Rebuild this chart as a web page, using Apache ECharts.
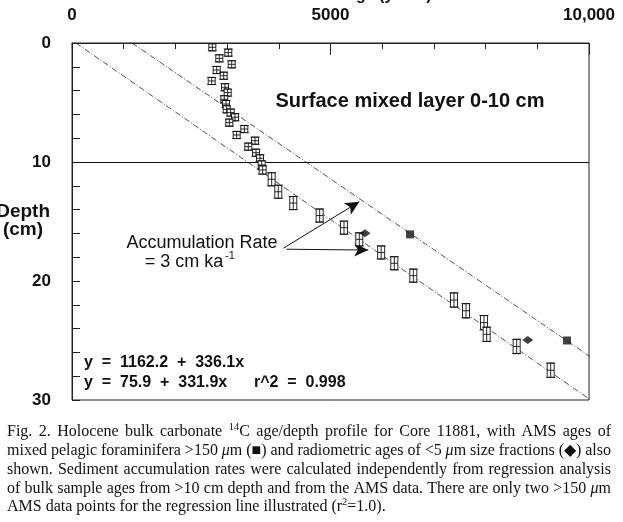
<!DOCTYPE html>
<html><head><meta charset="utf-8">
<script src="https://cdn.jsdelivr.net/npm/echarts@6/dist/echarts.min.js"></script>
<style>html,body{margin:0;padding:0;background:#fff}#c{width:623px;height:522px}</style>
</head><body><div id="c"></div>
<script>
// ---- data (age in years, depth in cm) ----
const bulkAge   = [2714,3023,2849,3089,2799,2934,2702,2959,3011,2946,2979,2992,3069,3153,3043,3333,3185,3540,3410,3559,3636,
                   3669,3688,3862,3990,4280,4790,5261,5557,5980,6234,6602,7389,7621,7969,8021,8601,9259];
const bulkDepth = [0.36,0.81,1.29,1.79,2.27,2.75,3.19,3.72,4.17,4.73,5.13,5.57,5.85,6.24,6.69,7.23,7.73,8.21,8.71,9.22,9.69,
                   10.25,10.67,11.45,12.5,13.45,14.5,15.52,16.5,17.6,18.51,19.55,21.6,22.5,23.5,24.48,25.5,27.5];
const bulkErr   = [0.3,0.3,0.3,0.3,0.3,0.3,0.3,0.3,0.3,0.3,0.3,0.3,0.3,0.3,0.3,0.3,0.3,0.3,0.3,0.3,0.3,
                   0.35,0.35,0.55,0.55,0.55,0.55,0.55,0.55,0.55,0.55,0.55,0.6,0.6,0.6,0.6,0.6,0.6];
const amsAge = [6538, 9574];
const amsDepth = [16.08, 25.0];
const fineAge = [5667, 8815];
const fineDepth = [15.99, 24.96];
// regression: age = a + b * depth
const regAms  = {a: 1162.2, b: 336.1};
const regBulk = {a: 75.9,  b: 331.9};
const regDepthRange = [0, 30];
const xTickLabels = {0: '0', 5000: '5000', 10000: '10,000'};
const yTickLabels = [0, 10, 20, 30];
const surfaceLimit = 10;
// arrows: [start age, start depth, end age, end depth]
const arrows = [[4087, 17.25, 5557, 13.34], [4150, 17.33, 5731, 17.4]];

const eqLine1 = 'y  =  1162.2  +  336.1x';
const eqLine2 = 'y  =  75.9  +  331.9x      r^2  =  0.998';

const captionLines = [
  'Fig. 2. Holocene bulk carbonate {s:14}C age/depth profile for Core 11881, with AMS ages of',
  'mixed pelagic foraminifera >150 {i:μ}m (■) and radiometric ages of <5 {i:μ}m size fractions (◆) also',
  'shown. Sediment accumulation rates were calculated independently from regression analysis',
  'of bulk sample ages from >10 cm depth and from the AMS data. There are only two >150 {i:μ}m',
  'AMS data points for the regression line illustrated (r{s:2}=1.0).'
];

// ---- chart ----
const chart = echarts.init(document.getElementById('c'), null, {renderer: 'canvas'});
const SANS = '"Liberation Sans", Arial, Helvetica, sans-serif';
const SERIF = '"Liberation Serif", "Times New Roman", serif';

function regLine(r){ return regDepthRange.map(d => [r.a + r.b * d, d]); }
const bulkData = bulkAge.map((a, i) => [a, bulkDepth[i], bulkErr[i]]);

function renderBulk(params, api){
  const x = api.value(0), d = api.value(1), e = api.value(2);
  const c = api.coord([x, d]);
  const top = api.coord([x, d - e])[1];
  const bot = api.coord([x, d + e])[1];
  const hw = 3.5, cw = 4.5;
  const st = {stroke: '#111', lineWidth: 0.9, fill: null};
  return {type: 'group', children: [
    {type: 'rect', shape: {x: c[0] - hw, y: top, width: 2 * hw, height: bot - top}, style: {fill: '#fff', stroke: '#111', lineWidth: 0.9}},
    {type: 'line', shape: {x1: c[0], y1: top, x2: c[0], y2: bot}, style: st},
    {type: 'line', shape: {x1: c[0] - hw, y1: c[1], x2: c[0] + hw, y2: c[1]}, style: st},
    {type: 'line', shape: {x1: c[0] - cw, y1: top, x2: c[0] + cw, y2: top}, style: st},
    {type: 'line', shape: {x1: c[0] - cw, y1: bot, x2: c[0] + cw, y2: bot}, style: st}
  ]};
}

// caption layout (justified)
const mctx = document.createElement('canvas').getContext('2d');
const CAP_SIZE = 16, SUP_SIZE = 10.5;
function segs(word){
  const out = []; const re = /\{(s|i):([^}]*)\}/g; let last = 0, m;
  while ((m = re.exec(word))){
    if (m.index > last) out.push({t: word.slice(last, m.index), k: 'n'});
    out.push({t: m[2], k: m[1]}); last = re.lastIndex;
  }
  if (last < word.length) out.push({t: word.slice(last), k: 'n'});
  return out;
}
function segFont(k){
  if (k === 's') return SUP_SIZE + 'px ' + SERIF;
  if (k === 'i') return 'italic ' + CAP_SIZE + 'px ' + SERIF;
  return CAP_SIZE + 'px ' + SERIF;
}
function segW(s){ mctx.font = segFont(s.k); return mctx.measureText(s.t).width; }
const capX0 = 7, capX1 = 611, capY0 = 432, capDy = 18.8;
const captionEls = [];
captionLines.forEach((line, li) => {
  const words = line.split(' ').map(segs);
  const widths = words.map(ss => ss.reduce((s, g) => s + segW(g), 0));
  const total = widths.reduce((a, b) => a + b, 0);
  mctx.font = segFont('n');
  const space = mctx.measureText(' ').width;
  const last = li === captionLines.length - 1;
  const gap = last ? space : (capX1 - capX0 - total) / (words.length - 1);
  let x = capX0; const y = capY0 + li * capDy;
  words.forEach((ss, wi) => {
    ss.forEach(g => {
      captionEls.push({type: 'text', x: x, y: g.k === 's' ? y - 5 : y,
        style: {text: g.t, font: segFont(g.k), fill: '#111', align: 'left', verticalAlign: 'middle'}});
      x += segW(g);
    });
    x += gap;
  });
});

function T(text, x, y, size, weight, align, extra){
  return Object.assign({type: 'text', x: x, y: y, z: 50,
    style: {text: text, font: (weight || 'normal') + ' ' + size + 'px ' + SANS, fill: '#111', align: align || 'left', verticalAlign: 'middle'}}, extra || {});
}

const option = {
  backgroundColor: '#fff',
  animation: false,
  grid: {left: 72, top: 43, right: 34, bottom: 122, show: true, borderColor: '#222', borderWidth: 1},
  xAxis: [{
    type: 'value', position: 'top', min: 0, max: 10000, interval: 1000,
    axisLine: {show: true, lineStyle: {color: '#222', width: 1}},
    axisTick: {show: true, inside: true, length: 6, lineStyle: {color: '#222'}},
    splitLine: {show: false},
    axisLabel: {margin: 19, color: '#111', fontFamily: SANS, fontWeight: 'bold', fontSize: 17,
      formatter: v => (xTickLabels[v] !== undefined ? xTickLabels[v] : '')}
  }, {
    type: 'value', position: 'top', min: 0, max: 10000, interval: 5000,
    axisLine: {show: false}, axisTick: {show: true, inside: true, length: 12, lineStyle: {color: '#222'}},
    splitLine: {show: false}, axisLabel: {show: false}
  }],
  yAxis: {
    type: 'value', inverse: true, min: 0, max: 30, interval: 2,
    axisLine: {show: true, lineStyle: {color: '#222', width: 1}},
    axisTick: {show: true, inside: true, length: 8, lineStyle: {color: '#222'}},
    splitLine: {show: false},
    axisLabel: {margin: 21, color: '#111', fontFamily: SANS, fontWeight: 'bold', fontSize: 17,
      formatter: v => (yTickLabels.indexOf(v) >= 0 ? String(v) : '')}
  },
  series: [
    {type: 'line', data: regLine(regAms), symbol: 'none', clip: true,
     lineStyle: {color: '#222', width: 0.8, type: [6, 2, 1, 2]},
     markLine: {silent: true, symbol: 'none', label: {show: false},
       lineStyle: {color: '#111', width: 1.1, type: 'solid'},
       data: [{yAxis: surfaceLimit}]}},
    {type: 'line', data: regLine(regBulk), symbol: 'none', clip: true,
     lineStyle: {color: '#222', width: 0.8, type: [6, 2, 1, 2]},
     markLine: {silent: true, symbol: ['none', 'arrow'], symbolSize: [10, 14], label: {show: false},
       lineStyle: {color: '#111', width: 1, type: 'solid'},
       data: arrows.map(a => [{coord: [a[0], a[1]]}, {coord: [a[2], a[3]]}])}},
    {type: 'custom', renderItem: renderBulk, data: bulkData, clip: false, z: 5},
    {type: 'scatter', data: amsAge.map((a, i) => [a, amsDepth[i]]), symbol: 'rect', symbolSize: 8,
     itemStyle: {color: '#111'}, z: 6},
    {type: 'scatter', data: fineAge.map((a, i) => [a, fineDepth[i]]), symbol: 'diamond', symbolSize: [11, 8],
     itemStyle: {color: '#111'}, z: 6}
  ],
  graphic: {elements: [
    T('Age (years)', 388, -4, 16, 'bold', 'center'),
    T('Depth', 50, 212, 19, 'bold', 'right'),
    T('(cm)', 23, 230, 19, 'bold', 'center'),
    T('Surface mixed layer 0-10 cm', 410, 101, 20, 'bold', 'center'),
    T('Accumulation Rate', 202, 243, 18, 'normal', 'center'),
    T('= 3 cm ka', 184, 262, 18, 'normal', 'center'),
    T('-1', 225, 256, 11, 'normal', 'left'),
    T(eqLine1, 84, 363, 16, 'bold', 'left'),
    T(eqLine2, 84, 383, 16, 'bold', 'left')
  ].concat(captionEls)}
};
chart.setOption(option);
</script>
</body></html>
